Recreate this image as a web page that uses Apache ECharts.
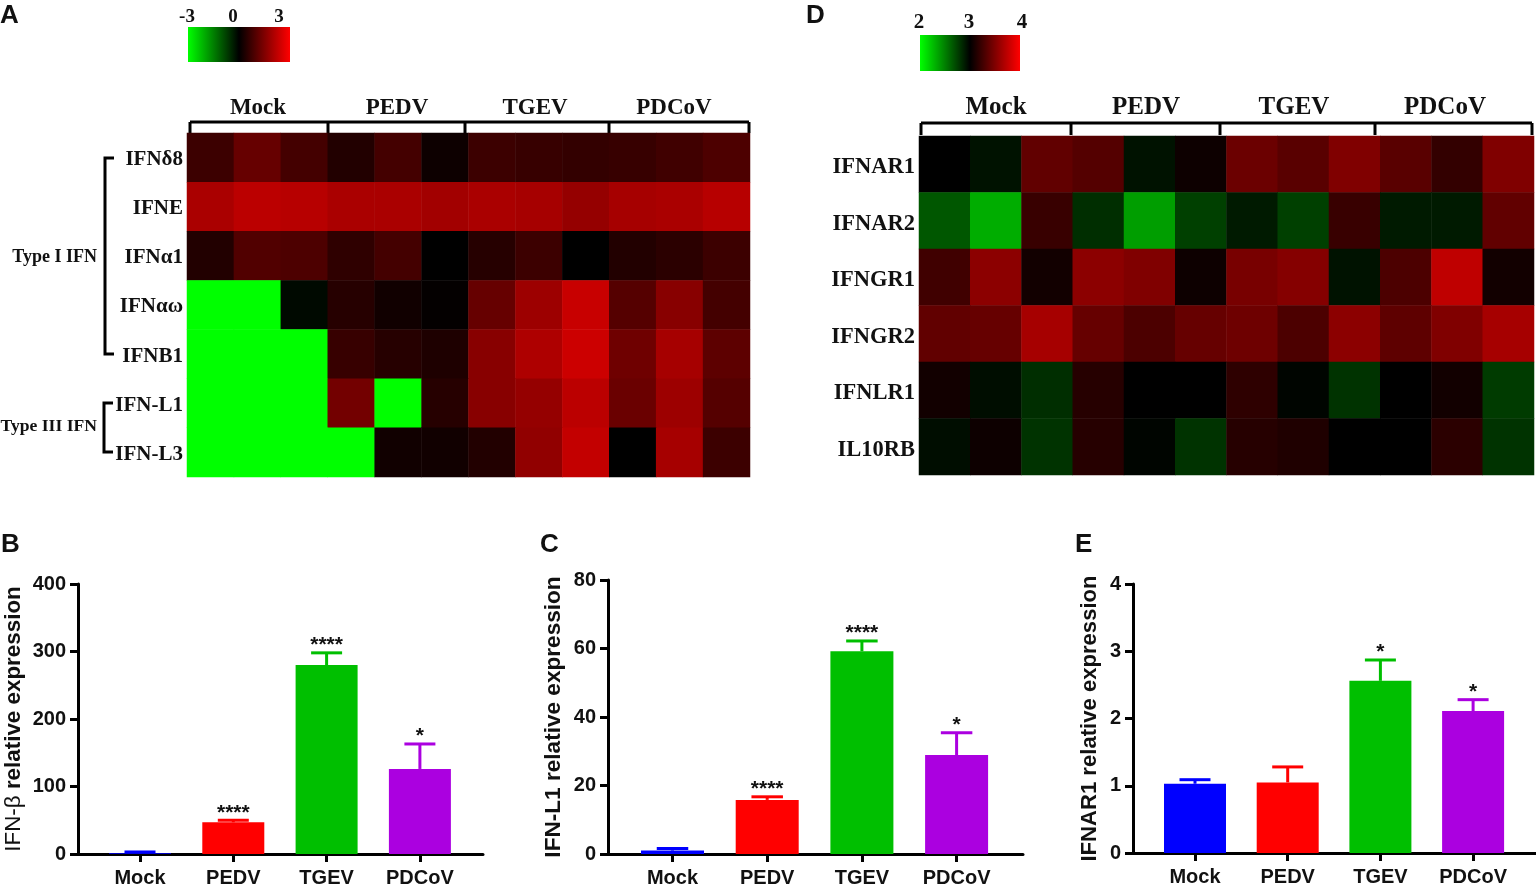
<!DOCTYPE html>
<html lang="en">
<head>
<meta charset="UTF-8">
<title>IFN expression</title>
<script src="https://cdn.jsdelivr.net/npm/echarts@6/dist/echarts.min.js"></script>
<style>
    html,body{margin:0;padding:0;background:#fff;}
    #container{width:1536px;height:884px;}
</style>
</head>
<body>
<div id="container"></div>
<script>
    // heatmap A
    var genesA = ['IFNδ8','IFNE','IFNα1','IFNαω','IFNB1','IFN-L1','IFN-L3'];
    var heatA = [
        [0.7,1.2,0.8, 0.4,0.8,0.15, 0.7,0.65,0.6, 0.65,0.75,0.9],
        [2.0,2.2,2.15, 2.0,2.0,1.9, 2.0,1.95,1.75, 1.95,2.0,2.15],
        [0.4,0.95,0.9, 0.55,0.8,0, 0.45,0.7,0, 0.4,0.5,0.7],
        [-3,-3,-0.1, 0.45,0.2,0.05, 1.2,1.85,2.35, 1.0,1.6,0.8],
        [-3,-3,-3, 0.65,0.45,0.35, 1.6,2.05,2.4, 1.3,1.95,1.1],
        [-3,-3,-3, 1.35,-3,0.45, 1.6,1.75,2.2, 1.25,1.85,1.0],
        [-3,-3,-3, -3,0.2,0.2, 0.4,1.7,2.3, 0,1.95,0.7]
    ];
    // heatmap D
    var genesD = ['IFNAR1','IFNAR2','IFNGR1','IFNGR2','IFNLR1','IL10RB'];
    var heatD = [
        [3.0,2.93,3.38, 3.33,2.93,3.05, 3.42,3.35,3.5, 3.35,3.2,3.5],
        [2.66,2.32,3.22, 2.82,2.38,2.75, 2.9,2.75,3.22, 2.9,2.9,3.38],
        [3.25,3.55,3.07, 3.55,3.5,3.05, 3.47,3.52,2.93, 3.3,3.75,3.07],
        [3.38,3.4,3.65, 3.4,3.3,3.4, 3.43,3.3,3.55, 3.37,3.5,3.65],
        [3.07,2.95,2.82, 3.15,3.0,3.0, 3.18,2.98,2.8, 3.0,3.07,2.77],
        [2.95,3.05,2.8, 3.15,2.98,2.8, 3.15,3.12,3.0, 3.0,3.17,2.8]
    ];
    var groups = ['Mock','PEDV','TGEV','PDCoV'];
    var replicates = ['1','2','3','4','5','6','7','8','9','10','11','12'];

    // bars
    var colors = ['#0000ff','#ff0000','#00bf00','#ab00e0'];
    var meanB = [1,47,280,126];
    var topB = [3,50,298,163];
    var starsB = ['','****','****','*'];
    var meanC = [1,15.8,59.2,28.9];
    var topC = [1.6,16.7,62.2,35.4];
    var starsC = ['','****','****','*'];
    var meanE = [1.03,1.05,2.56,2.11];
    var topE = [1.09,1.28,2.87,2.28];
    var starsE = ['','','*','*'];

    var serif = '"Liberation Serif"';
    var sans = '"Liberation Sans"';

    function cells(rows){
        var out = [];
        rows.forEach(function(row,r){
            row.forEach(function(v,c){ out.push([c,r,v]); });
        });
        return out;
    }

    var grid = [], xAxis = [], yAxis = [], series = [], graphic = [];

    function heatPanel(idx,genes,rows,box,labelSize,labelPad){
        grid.push({left:box[0],top:box[1],width:box[2]-box[0],height:box[3]-box[1],outerBoundsMode:'none'});
        xAxis.push({type:'category',gridIndex:idx,data:replicates,show:false});
        yAxis.push({type:'category',gridIndex:idx,data:genes,inverse:true,
            axisLine:{show:false},axisTick:{show:false},splitLine:{show:false},
            axisLabel:{margin:4,formatter:'{g|{value}}',
                rich:{g:{padding:[labelPad,0,0,0],fontFamily:serif,fontWeight:'bold',fontSize:labelSize,color:'#111'}}}});
        series.push({type:'heatmap',xAxisIndex:idx,yAxisIndex:idx,data:cells(rows),silent:true,progressive:0});
    }

    function barPanel(idx,cats,mean,top,stars,box,yMax,yStep,name,gap,nameSize,firstTick,step,barW){
        grid.push({left:box[0],top:box[1],width:box[2]-box[0],height:box[3]-box[1],outerBoundsMode:'none'});
        var tickVals = cats.map(function(c,i){return i;});
        xAxis.push({type:'value',gridIndex:idx,
            min:(box[0]-firstTick)/step,max:(box[2]-firstTick)/step,
            splitLine:{show:false},
            axisLine:{lineStyle:{color:'#000',width:3}},
            axisTick:{customValues:tickVals,length:8,lineStyle:{color:'#000',width:3}},
            axisLabel:{customValues:tickVals,margin:14,fontFamily:sans,fontWeight:'bold',fontSize:20,color:'#111',
                formatter:function(v){return cats[Math.round(v)];}}
        });
        yAxis.push({type:'value',gridIndex:idx,min:0,max:yMax,interval:yStep,
            splitLine:{show:false},
            axisLine:{onZero:false,lineStyle:{color:'#000',width:3}},
            axisTick:{length:8,lineStyle:{color:'#000',width:3}},
            axisLabel:{margin:12,fontFamily:sans,fontWeight:'bold',fontSize:20,color:'#111'},
            name:name,nameLocation:'middle',nameRotate:90,nameGap:gap,
            nameTextStyle:{fontFamily:sans,fontWeight:'bold',fontSize:nameSize,color:'#111',
                rich:{t:{fontFamily:sans,fontWeight:'normal',fontSize:nameSize,color:'#111'}}}
        });
        series.push({type:'bar',xAxisIndex:idx,yAxisIndex:idx,barWidth:barW,silent:true,
            data:mean.map(function(v,i){return {value:[i,v],itemStyle:{color:colors[i]}};})});
        series.push({type:'custom',xAxisIndex:idx,yAxisIndex:idx,silent:true,clip:false,z:3,
            data:mean.map(function(v,i){return [i,v,top[i]];}),
            renderItem:function(params,api){
                var i = api.value(0);
                var a = api.coord([i,api.value(1)]);
                var b = api.coord([i,api.value(2)]);
                var st = {stroke:colors[i],lineWidth:3};
                return {type:'group',children:[
                    {type:'line',shape:{x1:a[0],y1:a[1],x2:b[0],y2:b[1]},style:st},
                    {type:'line',shape:{x1:b[0]-barW/4,y1:b[1],x2:b[0]+barW/4,y2:b[1]},style:st},
                    {type:'text',style:{x:b[0],y:b[1]+3,text:stars[i],textAlign:'center',textVerticalAlign:'bottom',
                        fontFamily:sans,fontWeight:'bold',fontSize:21,fill:'#111'}}
                ]};
            }
        });
    }

    function txt(x,y,s,font,size,align){
        graphic.push({type:'text',x:x,y:y,silent:true,style:{text:s,fontFamily:font,fontWeight:'bold',fontSize:size,
            fill:'#111',textAlign:align||'center',textVerticalAlign:'middle'}});
    }
    function path(points){
        graphic.push({type:'polyline',silent:true,shape:{points:points},style:{stroke:'#000',lineWidth:3,fill:'none'}});
    }
    function bracket(xs,y0,y1){
        path([[xs[0],y0],[xs[xs.length-1],y0]]);
        xs.forEach(function(x){ path([[x,y0],[x,y1]]); });
    }
    // colour key next to each heatmap
    function colorKey(x,y,w,h){
        graphic.push({type:'rect',silent:true,shape:{x:x,y:y,width:w,height:h},style:{
            fill:new echarts.graphic.LinearGradient(0,0,1,0,[
                {offset:0,color:ramp[0]},{offset:0.5,color:ramp[1]},{offset:1,color:ramp[2]}
            ])}});
    }

    var ramp = ['#00ff00','#000000','#ff0000'];

    heatPanel(0,genesA,heatA,[187,133,750,477],21,4);
    heatPanel(1,genesD,heatD,[919,136,1534,475],22.5,6);
    barPanel(2,groups,meanB,topB,starsB,[78,584,483,854],400,100,'{t|IFN-β} relative expression',53,22.4,140,93.3,62);
    barPanel(3,groups,meanC,topC,starsC,[608,580,1023,854],80,20,'IFN-L1 relative expression',43,22.6,672.5,94.7,63);
    barPanel(4,groups,meanE,topE,starsE,[1133,584,1536,853],4,1,'IFNAR1 relative expression',32,22.1,1195,92.7,62);

    // group headers
    bracket([190,328,465,609,749],122,133);
    bracket([921,1071,1220,1375,1532],123,135);
    [258,397,535,674].forEach(function(x,i){ txt(x,108,groups[i],serif,23); });
    [996,1146,1294,1445].forEach(function(x,i){ txt(x,108,groups[i],serif,25); });

    // side brackets
    path([[114,158],[105,158],[105,354],[114,354]]);
    path([[113,403],[104,403],[104,452],[113,452]]);
    txt(97,257,'Type I IFN',serif,18,'right');
    txt(97,426,'Type III IFN',serif,17.6,'right');

    // colour keys
    colorKey(188,27,102,35);
    colorKey(920,35,100,36);
    txt(187,17,'-3',serif,19); txt(233,17,'0',serif,19); txt(279,17,'3',serif,19);
    txt(919,23,'2',serif,21); txt(969,23,'3',serif,21); txt(1022,23,'4',serif,21);

    // panel letters
    txt(0,16,'A',sans,26,'left');
    txt(806,16,'D',sans,26,'left');
    txt(1,545,'B',sans,26,'left');
    txt(540,545,'C',sans,26,'left');
    txt(1075,545,'E',sans,26,'left');

    var option = {
        animation:false,
        backgroundColor:'#fff',
        grid:grid,xAxis:xAxis,yAxis:yAxis,series:series,graphic:graphic,
        visualMap:[
            {type:'continuous',show:false,seriesIndex:0,min:-3,max:3,inRange:{color:ramp}},
            {type:'continuous',show:false,seriesIndex:1,min:2,max:4,inRange:{color:ramp}}
        ]
    };
    var myChart = echarts.init(document.getElementById('container'));
    myChart.setOption(option);
</script>
</body>
</html>
